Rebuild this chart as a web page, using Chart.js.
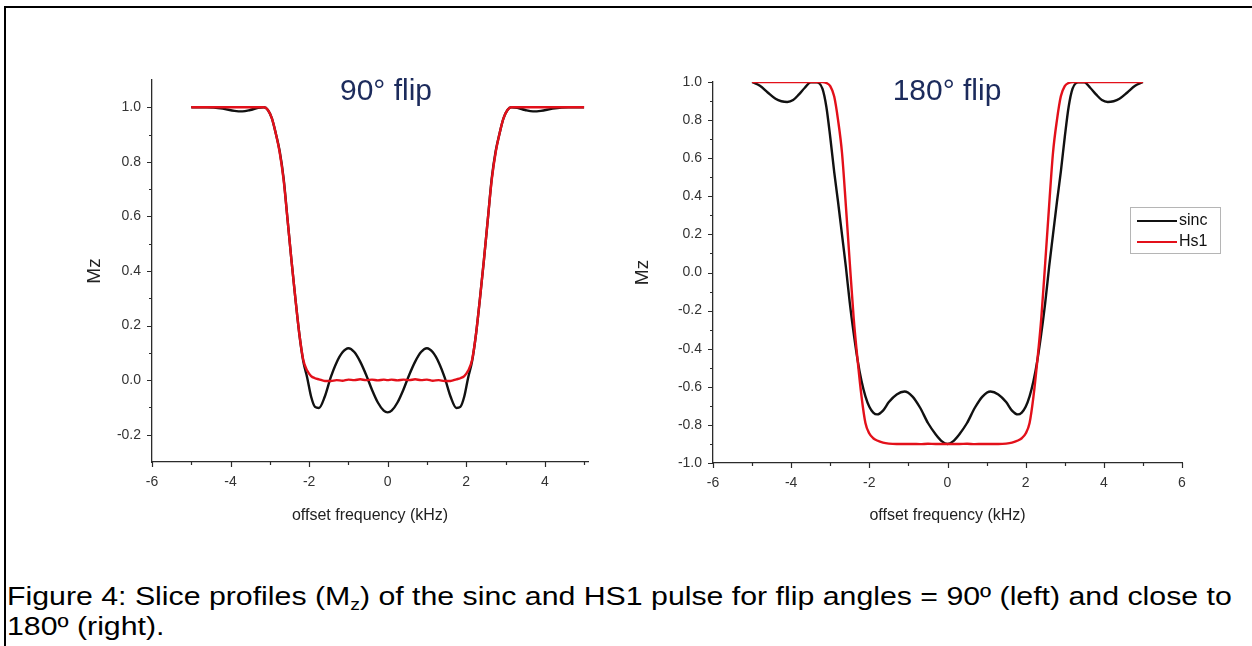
<!DOCTYPE html>
<html>
<head>
<meta charset="utf-8">
<script src="https://cdn.jsdelivr.net/npm/chart.js@4.4.0/dist/chart.umd.min.js"></script>
<style>
  html, body { margin: 0; padding: 0; background: #fff; overflow: hidden; }
  body { width: 1252px; height: 646px; position: relative; font-family: "Liberation Sans", Arial, sans-serif; }
  .frame { position: absolute; left: 4px; top: 6px; width: 2000px; height: 2000px; border-left: 2px solid #000; border-top: 2px solid #000; }
  canvas { position: absolute; top: 0; }
  .title { position: absolute; top: 75px; font-size: 30px; line-height: 30px; color: #1c2b5c; white-space: nowrap; transform: translateX(-50%); }
  .legend { position: absolute; left: 1130px; top: 207px; width: 89px; height: 45px; border: 1px solid #b5b5b5; font-size: 16px; color: #111; }
  .legend div { position: absolute; left: 6px; height: 20px; line-height: 20px; }
  .legend span { display: inline-block; width: 40px; height: 0; border-top: 2.5px solid; vertical-align: middle; margin-right: 2px; }
  .caption { position: absolute; left: 7px; top: 583px; font-size: 25px; line-height: 26px; color: #000; white-space: nowrap; transform-origin: left top; }
  .caption .sub { font-size: 16px; position: relative; top: 5px; }
</style>
</head>
<body>
<div class="frame"></div>
<canvas id="left" width="620" height="540" style="left:0px"></canvas>
<canvas id="right" width="632" height="540" style="left:620px"></canvas>
<div class="title" style="left:386px">90° flip</div>
<div class="title" style="left:947px">180° flip</div>
<div class="legend">
  <div style="top:2px"><span style="border-color:#111"></span>sinc</div>
  <div style="top:23px"><span style="border-color:#e3101a"></span>Hs1</div>
</div>
<div class="caption" id="caption"><span id="capLine1">Figure 4: Slice profiles (M<span class="sub">z</span>) of the sinc and HS1 pulse for flip angles = 90º (left) and close to</span><br>180º (right).</div>

<script>
// left panel: 90 degree flip
const leftX = [-5, -4.6, -4.2, -3.9, -3.7, -3.5, -3.3, -3.15, -3.05, -2.95, -2.85, -2.75, -2.65, -2.55, -2.45, -2.35, -2.25, -2.15, -2.05, -1.95, -1.85, -1.75, -1.6, -1.45, -1.3, -1.15, -1.0, -0.85, -0.7, -0.55, -0.4, -0.25, -0.1,
  0, 0.1, 0.25, 0.4, 0.55, 0.7, 0.85, 1.0, 1.15, 1.3, 1.45, 1.6, 1.75, 1.85, 1.95, 2.05, 2.15, 2.25, 2.35, 2.45, 2.55, 2.65, 2.75, 2.85, 2.95, 3.05, 3.15, 3.3, 3.5, 3.7, 3.9, 4.2, 4.6, 5];
const leftSinc = [1.0, 1.0, 0.995, 0.987, 0.985, 0.99, 0.998, 1.0, 0.99, 0.96, 0.905, 0.84, 0.74, 0.59, 0.44, 0.30, 0.17, 0.07, 0.01, -0.06, -0.098, -0.102, -0.06, 0.01, 0.065, 0.102, 0.117, 0.103, 0.068, 0.02, -0.035, -0.082, -0.112,
  -0.118, -0.112, -0.082, -0.035, 0.02, 0.068, 0.103, 0.117, 0.102, 0.065, 0.01, -0.06, -0.102, -0.098, -0.06, 0.01, 0.07, 0.17, 0.30, 0.44, 0.59, 0.74, 0.84, 0.905, 0.96, 0.99, 1.0, 0.998, 0.99, 0.985, 0.987, 0.995, 1.0, 1.0];
const leftHs1 = [1.0, 1.0, 1.0, 1.0, 1.0, 1.0, 1.0, 1.0, 0.99, 0.96, 0.905, 0.835, 0.735, 0.59, 0.44, 0.30, 0.17, 0.075, 0.035, 0.015, 0.007, 0.003, -0.003, -0.003, 0.0, -0.002, 0.002, 0.0, 0.003, 0.0, 0.002, -0.001, 0.002,
  0.0, 0.002, -0.001, 0.002, 0.0, 0.003, 0.0, 0.002, -0.002, 0.0, -0.003, -0.003, 0.003, 0.007, 0.015, 0.035, 0.075, 0.17, 0.30, 0.44, 0.59, 0.735, 0.835, 0.905, 0.96, 0.99, 1.0, 1.0, 1.0, 1.0, 1.0, 1.0, 1.0, 1.0];
const leftXTicks = [-6, -4, -2, 0, 2, 4];
const leftXMinor = [-5, -3, -1, 1, 3, 5];
const leftYTicks = [-0.2, 0.0, 0.2, 0.4, 0.6, 0.8, 1.0];
const leftYMinor = [-0.1, 0.1, 0.3, 0.5, 0.7, 0.9];

// right panel: close to 180 degree flip
const rightX = [-5, -4.8, -4.6, -4.4, -4.25, -4.1, -3.95, -3.8, -3.65, -3.5, -3.35, -3.2, -3.1, -3.0, -2.9, -2.8, -2.7, -2.6, -2.5, -2.4, -2.3, -2.2, -2.1, -2.0, -1.9, -1.8, -1.65, -1.5, -1.3, -1.1, -0.9, -0.7, -0.5, -0.3, -0.15,
  0, 0.15, 0.3, 0.5, 0.7, 0.9, 1.1, 1.3, 1.5, 1.65, 1.8, 1.9, 2.0, 2.1, 2.2, 2.3, 2.4, 2.5, 2.6, 2.7, 2.8, 2.9, 3.0, 3.1, 3.2, 3.35, 3.5, 3.65, 3.8, 3.95, 4.1, 4.25, 4.4, 4.6, 4.8, 5];
const rightSinc = [1.0, 0.98, 0.945, 0.912, 0.899, 0.895, 0.905, 0.935, 0.97, 0.998, 0.998, 0.965, 0.87, 0.71, 0.53, 0.37, 0.20, 0.03, -0.16, -0.32, -0.46, -0.57, -0.65, -0.705, -0.735, -0.745, -0.725, -0.68, -0.64, -0.625, -0.65, -0.71, -0.79, -0.85, -0.885,
  -0.9, -0.885, -0.85, -0.79, -0.71, -0.65, -0.625, -0.64, -0.68, -0.725, -0.745, -0.735, -0.705, -0.65, -0.57, -0.46, -0.32, -0.16, 0.03, 0.20, 0.37, 0.53, 0.71, 0.87, 0.965, 0.998, 0.998, 0.97, 0.935, 0.905, 0.895, 0.899, 0.912, 0.945, 0.98, 1.0];
const rightHs1 = [1.0, 1.0, 1.0, 1.0, 1.0, 1.0, 1.0, 1.0, 1.0, 1.0, 1.0, 1.0, 0.995, 0.978, 0.925, 0.8, 0.63, 0.35, 0.05, -0.24, -0.46, -0.65, -0.79, -0.845, -0.87, -0.882, -0.893, -0.898, -0.9, -0.9, -0.9, -0.901, -0.899, -0.9, -0.9,
  -0.9, -0.9, -0.9, -0.899, -0.901, -0.9, -0.9, -0.9, -0.898, -0.893, -0.882, -0.87, -0.845, -0.79, -0.65, -0.46, -0.24, 0.05, 0.35, 0.63, 0.8, 0.925, 0.978, 0.995, 1.0, 1.0, 1.0, 1.0, 1.0, 1.0, 1.0, 1.0, 1.0, 1.0, 1.0, 1.0];
const rightXTicks = [-6, -4, -2, 0, 2, 4, 6];
const rightXMinor = [-5, -3, -1, 1, 3, 5];
const rightYTicks = [-1.0, -0.8, -0.6, -0.4, -0.2, 0.0, 0.2, 0.4, 0.6, 0.8, 1.0];
const rightYMinor = [-0.9, -0.7, -0.5, -0.3, -0.1, 0.1, 0.3, 0.5, 0.7, 0.9];

const FONT = '"Liberation Sans", Arial, sans-serif';
const AXIS = '#2b2b2b';

// small outward tick marks, majors longer than minors
const tickMarks = {
    id: "tickMarks",
    afterDraw(chart, args, opts) {
        const { ctx, scales: { x, y } } = chart;
        ctx.save();
        ctx.strokeStyle = AXIS;
        ctx.lineWidth = 1.2;
        ctx.beginPath();
        const xt = (list, len) => list.forEach(v => {
            const px = Math.round(x.getPixelForValue(v)) + 0.5;
            ctx.moveTo(px, y.bottom); ctx.lineTo(px, y.bottom + len);
        });
        const yt = (list, len) => list.forEach(v => {
            const py = Math.round(y.getPixelForValue(v)) + 0.5;
            ctx.moveTo(x.left, py); ctx.lineTo(x.left - len, py);
        });
        xt(opts.xMajor, 5); xt(opts.xMinor, 3);
        yt(opts.yMajor, 5); yt(opts.yMinor, 3);
        ctx.stroke();
        ctx.restore();
    }
};

function pts(xs, ys) {
    return xs.map((x, i) => ({ x: x, y: ys[i] }));
}

function makeChart(id, cfg) {
    const ctx = document.getElementById(id).getContext("2d");
    return new Chart(ctx, {
        type: "line",
        data: {
            datasets: [
                { label: "sinc", data: pts(cfg.xs, cfg.sinc), borderColor: "#111", borderWidth: 2.4, order: 1 },
                { label: "Hs1", data: pts(cfg.xs, cfg.hs1), borderColor: "#e3101a", borderWidth: 2.4, order: 0 }
            ]
        },
        options: {
            responsive: false,
            animation: false,
            events: [],
            layout: { padding: cfg.padding },
            elements: { point: { radius: 0 }, line: { cubicInterpolationMode: "monotone", fill: false } },
            plugins: {
                legend: { display: false },
                tooltip: { enabled: false },
                tickMarks: { xMajor: cfg.xTicks, xMinor: cfg.xMinor, yMajor: cfg.yTicks, yMinor: cfg.yMinor }
            },
            scales: {
                x: {
                    type: "linear",
                    min: cfg.xMin, max: cfg.xMax,
                    afterBuildTicks: s => { s.ticks = cfg.xTicks.map(v => ({ value: v })); },
                    afterFit: s => { s.height = cfg.xHeight; },
                    grid: { display: false, drawTicks: false },
                    border: { display: true, color: AXIS, width: 1.3 },
                    ticks: { padding: 12, color: "#333", font: { family: FONT, size: 14 }, maxRotation: 0, callback: v => String(v) },
                    title: { display: true, text: "offset frequency (kHz)", color: "#222", font: { family: FONT, size: 16 }, padding: { top: 0, bottom: 15 } }
                },
                y: {
                    min: cfg.yMin, max: cfg.yMax,
                    afterBuildTicks: s => { s.ticks = cfg.yTicks.map(v => ({ value: v })); },
                    afterFit: s => { s.width = cfg.yWidth; },
                    grid: { display: false, drawTicks: false },
                    border: { display: true, color: AXIS, width: 1.3 },
                    ticks: { padding: 11, color: "#333", font: { family: FONT, size: 14 }, callback: v => v.toFixed(1) },
                    title: { display: true, text: "Mz", color: "#222", font: { family: FONT, size: 19 }, padding: { top: cfg.yTitlePad, bottom: 0 } }
                }
            }
        },
        plugins: [tickMarks]
    });
}

makeChart("left", {
    xs: leftX, sinc: leftSinc, hs1: leftHs1,
    xTicks: leftXTicks, xMinor: leftXMinor, yTicks: leftYTicks, yMinor: leftYMinor,
    xMin: -6, xMax: 5.1, yMin: -0.3, yMax: 1.1,
    padding: { top: 80, right: 32, left: 0, bottom: 0 },
    xHeight: 78, yWidth: 152, yTitlePad: 83
});

makeChart("right", {
    xs: rightX, sinc: rightSinc, hs1: rightHs1,
    xTicks: rightXTicks, xMinor: rightXMinor, yTicks: rightYTicks, yMinor: rightYMinor,
    xMin: -6, xMax: 6, yMin: -1.0, yMax: 1.0,
    padding: { top: 82, right: 70, left: 0, bottom: 0 },
    xHeight: 77, yWidth: 93, yTitlePad: 11
});

// the caption in the figure is set wide: stretch its first line to the full figure width
const cap = document.getElementById("caption");
const line1 = document.getElementById("capLine1");
cap.style.transform = "scaleX(" + (1225 / line1.getBoundingClientRect().width).toFixed(3) + ")";
</script>
</body>
</html>
